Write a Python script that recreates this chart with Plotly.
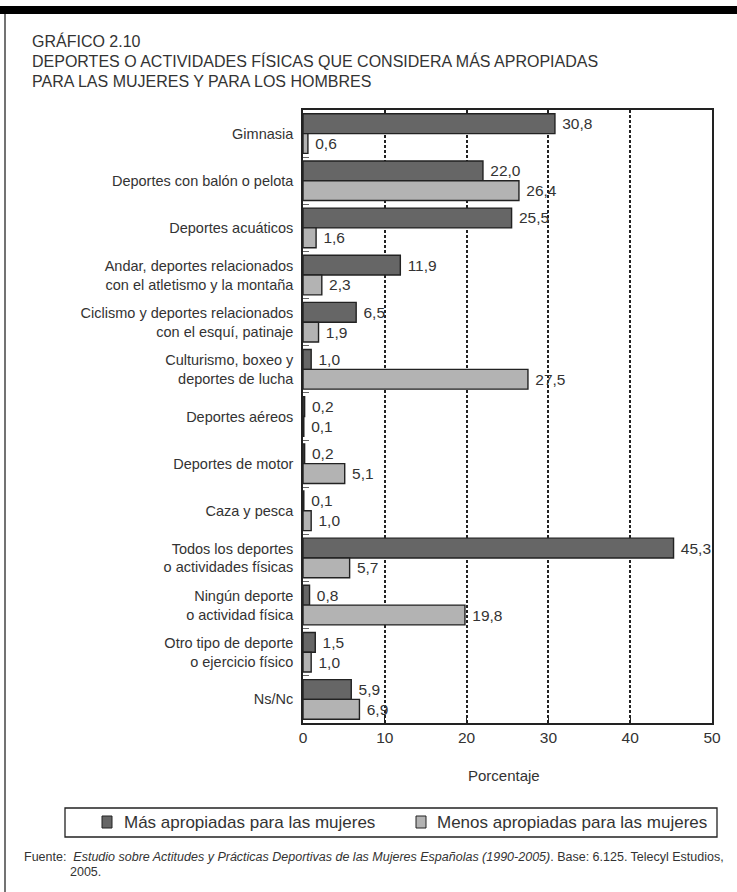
import plotly.graph_objects as go

categories = [
    "Gimnasia",
    "Deportes con balón o pelota",
    "Deportes acuáticos",
    "Andar, deportes relacionados<br>con el atletismo y la montaña",
    "Ciclismo y deportes relacionados<br>con el esquí, patinaje",
    "Culturismo, boxeo y<br>deportes de lucha",
    "Deportes aéreos",
    "Deportes de motor",
    "Caza y pesca",
    "Todos los deportes<br>o actividades físicas",
    "Ningún deporte<br>o actividad física",
    "Otro tipo de deporte<br>o ejercicio físico",
    "Ns/Nc",
]
mas = [30.8, 22.0, 25.5, 11.9, 6.5, 1.0, 0.2, 0.2, 0.1, 45.3, 0.8, 1.5, 5.9]
menos = [0.6, 26.4, 1.6, 2.3, 1.9, 27.5, 0.1, 5.1, 1.0, 5.7, 19.8, 1.0, 6.9]
series_names = ["Más apropiadas para las mujeres", "Menos apropiadas para las mujeres"]
x_ticks = [0, 10, 20, 30, 40, 50]

W, H = 737, 892
L, R, T, B = 303, 25, 110, 169
PW, PH = W - L - R, H - T - B

def px(x):
    return (x - L) / PW

def py(y):
    return (H - B - y) / PH

FONT = "Liberation Sans, Arial, sans-serif"
TXT = "#333333"
EDGE = "#222222"
DARK = "#666666"
LIGHT = "#b3b3b3"

fig = go.Figure()
for name, vals, col in [(series_names[0], mas, DARK), (series_names[1], menos, LIGHT)]:
    fig.add_trace(go.Bar(
        y=categories, x=vals, orientation="h", name=name,
        marker=dict(color=col, line=dict(color=EDGE, width=1.4)),
        texttemplate=" %{x:.1f}", textposition="outside", cliponaxis=False,
        textfont=dict(size=15.5, color=TXT, family=FONT),
    ))

shapes = [
    dict(type="rect", xref="paper", yref="paper", x0=px(0), x1=px(W), y0=py(14), y1=py(6),
         fillcolor="black", line=dict(width=0), layer="above"),
    dict(type="line", xref="paper", yref="paper", x0=px(5), x1=px(5), y0=py(14), y1=py(H),
         line=dict(color="#444444", width=1.5)),
    # legend box
    dict(type="rect", xref="paper", yref="paper", x0=px(65), x1=px(717), y0=py(837), y1=py(808),
         fillcolor="white", line=dict(color=EDGE, width=1.3)),
    dict(type="rect", xref="paper", yref="paper", x0=px(102), x1=px(112), y0=py(828), y1=py(816),
         fillcolor=DARK, line=dict(color=EDGE, width=1)),
    dict(type="rect", xref="paper", yref="paper", x0=px(416), x1=px(426), y0=py(828), y1=py(816),
         fillcolor=LIGHT, line=dict(color=EDGE, width=1)),
]

def ann(text, x, y, size, anchor="left"):
    return dict(text=text, x=px(x), y=py(y), xref="paper", yref="paper",
                xanchor=anchor, yanchor="middle", showarrow=False,
                font=dict(size=size, color=TXT, family=FONT))

annotations = [
    ann("GRÁFICO 2.10", 30, 41, 16),
    ann("DEPORTES O ACTIVIDADES FÍSICAS QUE CONSIDERA MÁS APROPIADAS", 30, 61, 16),
    ann("PARA LAS MUJERES Y PARA LOS HOMBRES", 30, 81, 16),
    ann("Porcentaje", 504, 775, 15, "center"),
    ann(series_names[0], 122, 822, 17),
    ann(series_names[1], 435, 822, 17),
    ann("Fuente:  <i>Estudio sobre Actitudes y Prácticas Deportivas de las Mujeres Españolas (1990-2005)</i>. Base: 6.125. Telecyl Estudios,",
        22, 857, 12.5),
    ann("2005.", 68, 872, 12.5),
]

fig.update_layout(
    width=W, height=H,
    margin=dict(l=L, r=R, t=T, b=B),
    paper_bgcolor="white", plot_bgcolor="white",
    barmode="group", bargap=0.16, bargroupgap=0,
    separators=",.",
    font=dict(family=FONT, color=TXT, size=15),
    showlegend=False,
    shapes=shapes,
    annotations=annotations,
    xaxis=dict(range=[0, 50], tickvals=x_ticks, showgrid=True, gridcolor=EDGE, griddash="3px,2px",
               gridwidth=1.5, showline=True, linecolor=EDGE, linewidth=1.5, mirror=True,
               ticks="inside", ticklen=8, tickcolor=EDGE, zeroline=False,
               tickfont=dict(size=15.5, color=TXT)),
    yaxis=dict(autorange="reversed", showline=True, linecolor=EDGE, linewidth=1.5, mirror=True,
               ticks="inside", tickson="boundaries", ticklen=6, tickcolor="#666666",
               tickfont=dict(size=14.5, color=TXT), ticklabelstandoff=5),
)

fig.write_html("out.html", post_script="document.body.style.margin='0';",
               config={"displayModeBar": False})
